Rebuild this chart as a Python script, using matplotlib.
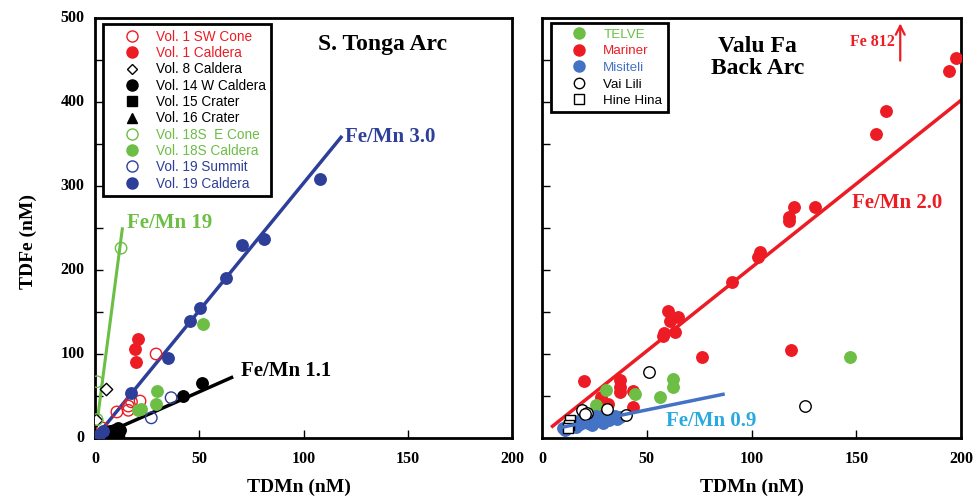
import matplotlib
matplotlib.use("Agg")
import matplotlib.pyplot as plt
from matplotlib.lines import Line2D

RED = "#ED1C24"
GREEN = "#6CBE45"
NAVY = "#2E3F99"
MBLUE = "#4472C4"
LBLUE = "#29A9E0"

# ---------------- Left panel data (S. Tonga Arc) ----------------
v1sw_x = [29.3, 10.5, 16, 17.5, 21.6, 16, 3.5]
v1sw_y = [100, 31, 38, 43, 44, 33, 12]
v1cal_x = [20.7, 19.2, 19.7]
v1cal_y = [118, 106, 91]
v8_x = [5.4, 0.5]
v8_y = [58, 22]
v14_x = [51.3, 42.2, 5, 7, 9, 10, 12, 8, 6, 11, 4]
v14_y = [66, 50, 5, 8, 10, 6, 9, 3, 2, 12, 1]
v15_x = [8, 9, 10, 7, 11]
v15_y = [2, 4, 1, 3, 6]
v16_x = [3, 5]
v16_y = [3, 2]
v18e_x = [12.5, 1, 1]
v18e_y = [226, 67, 22]
v18c_x = [29.7, 29.2, 22, 20.6, 51.8]
v18c_y = [56, 40, 34, 33, 136]
v19s_x = [36.5, 27]
v19s_y = [48, 24]
v19c_x = [108, 81, 70.5, 63, 50.4, 45.6, 35, 17.5, 2, 4]
v19c_y = [308, 237, 230, 190, 155, 139, 95, 54, 4, 8]

line3_x = [0, 118]
line3_y = [0, 358]
line19_x = [0, 13.1]
line19_y = [0, 249]
line11_x = [0, 65.5]
line11_y = [0, 72]

# ---------------- Right panel data (Valu Fa Back Arc) ----------------
mar_x = [197.6, 194.3, 164, 159.4, 120.3, 118, 118, 130.3, 104, 103, 90.7,
         60, 65, 61, 63.5, 58, 57.6, 119, 76.4, 20, 37, 37, 37, 28, 43.4,
         43.4, 31.6, 27.7]
mar_y = [452, 437, 389, 362, 275, 263, 258, 275, 221, 216, 186,
         151, 144, 139, 126, 125, 121, 105, 96, 68, 69, 55, 61, 49, 56,
         37, 40, 34]
telve_x = [62.7, 62.7, 56.3, 30.5, 44.4, 26, 147]
telve_y = [70, 61, 49, 57, 52, 39, 96]
misi_x = [10, 12, 15, 17, 19, 21, 23, 25, 27, 28, 30, 32, 33, 35, 36, 37,
          14, 18, 22, 26, 29, 11, 16, 24]
misi_y = [12, 14, 18, 20, 22, 20, 24, 22, 20, 24, 26, 22, 24, 26, 23, 25,
          16, 17, 18, 26, 18, 10, 13, 16]
vai_x = [51, 125.6, 31, 40, 19, 21.4, 20.5]
vai_y = [78, 38, 34, 27, 33, 30, 28]
hine_x = [13.4, 13, 12.6]
hine_y = [21, 15, 12]

line20_x = [5, 200]
line20_y = [14, 402]
line09_x = [10, 86.4]
line09_y = [13, 52]

xticks = [0, 50, 100, 150, 200]
yticks = [0, 100, 200, 300, 400, 500]

fig = plt.figure(figsize=(9.74, 4.97), dpi=100)
axL = fig.add_axes([95 / 974, 59 / 497, 417 / 974, 420 / 497])
axR = fig.add_axes([542 / 974, 59 / 497, 419 / 974, 420 / 497])

serif = "Liberation Serif"
sans = "Liberation Sans"
ms = 68

for ax in (axL, axR):
    ax.set_xlim(0, 200)
    ax.set_ylim(0, 500)
    for s in ax.spines.values():
        s.set_linewidth(2)
    ax.set_xticks([50, 100, 150])
    ax.set_yticks(list(range(50, 500, 50)))
    ax.tick_params(direction="in", length=6, width=1, labelbottom=False,
                   labelleft=False)

# Left panel
axL.plot(line19_x, line19_y, color=GREEN, lw=2.2, zorder=2)
axL.plot(line3_x, line3_y, color=NAVY, lw=2.5, zorder=2)
axL.plot(line11_x, line11_y, color="black", lw=2.5, zorder=2)

axL.scatter(v1sw_x, v1sw_y, s=ms, facecolors="none", edgecolors=RED, lw=1, zorder=3)
axL.scatter(v1cal_x, v1cal_y, s=ms, color=RED, zorder=3)
axL.scatter(v8_x, v8_y, s=40, marker="D", facecolors="white", edgecolors="black", lw=1, zorder=3)
axL.scatter(v14_x, v14_y, s=ms, color="black", zorder=3)
axL.scatter(v15_x, v15_y, s=ms, marker="s", color="black", zorder=3)
axL.scatter(v16_x, v16_y, s=ms, marker="^", color="black", zorder=3)
axL.scatter(v18e_x, v18e_y, s=ms, facecolors="none", edgecolors=GREEN, lw=1, zorder=3)
axL.scatter(v18c_x, v18c_y, s=ms, color=GREEN, zorder=3)
axL.scatter(v19s_x, v19s_y, s=ms, facecolors="none", edgecolors=NAVY, lw=1, zorder=3)
axL.scatter(v19c_x, v19c_y, s=ms, color=NAVY, zorder=3)

axL.text(120, 358, "Fe/Mn 3.0", color=NAVY, fontsize=15, fontweight="bold",
         family=serif, va="center")
axL.text(15.5, 256, "Fe/Mn 19", color=GREEN, fontsize=15, fontweight="bold",
         family=serif, va="center")
axL.text(70, 80, "Fe/Mn 1.1", color="black", fontsize=15, fontweight="bold",
         family=serif, va="center")
axL.text(107, 468, "S. Tonga Arc", color="black", fontsize=17, fontweight="bold",
         family=serif, va="center")

labelsL = ["Vol. 1 SW Cone", "Vol. 1 Caldera", "Vol. 8 Caldera", "Vol. 14 W Caldera",
           "Vol. 15 Crater", "Vol. 16 Crater", "Vol. 18S  E Cone", "Vol. 18S Caldera",
           "Vol. 19 Summit", "Vol. 19 Caldera"]
hL = [
    Line2D([], [], ls="", marker="o", mfc="none", mec=RED, ms=8),
    Line2D([], [], ls="", marker="o", mfc=RED, mec=RED, ms=8),
    Line2D([], [], ls="", marker="D", mfc="white", mec="black", ms=5.5),
    Line2D([], [], ls="", marker="o", mfc="black", mec="black", ms=8),
    Line2D([], [], ls="", marker="s", mfc="black", mec="black", ms=7.5),
    Line2D([], [], ls="", marker="^", mfc="black", mec="black", ms=7),
    Line2D([], [], ls="", marker="o", mfc="none", mec=GREEN, ms=8),
    Line2D([], [], ls="", marker="o", mfc=GREEN, mec=GREEN, ms=8),
    Line2D([], [], ls="", marker="o", mfc="none", mec=NAVY, ms=8),
    Line2D([], [], ls="", marker="o", mfc=NAVY, mec=NAVY, ms=8),
]
colL = [RED, RED, "black", "black", "black", "black", GREEN, GREEN, NAVY, NAVY]
legL = axL.legend(hL, labelsL, loc="upper left", bbox_to_anchor=(0.019, 0.985),
                  prop={"family": sans, "size": 9.8}, labelcolor=colL,
                  fancybox=False, framealpha=1, edgecolor="black",
                  borderpad=0.4, labelspacing=0.17, handletextpad=0.1,
                  borderaxespad=0, handlelength=3.4)
legL.get_frame().set_linewidth(2)

# Right panel
axR.plot(line20_x, line20_y, color=RED, lw=2.5, zorder=2)
axR.scatter(mar_x, mar_y, s=ms, color=RED, zorder=3)
axR.scatter(telve_x, telve_y, s=ms, color=GREEN, zorder=3)
axR.scatter(misi_x, misi_y, s=ms, color=MBLUE, zorder=3)
axR.scatter(vai_x, vai_y, s=ms, facecolors="white", edgecolors="black", lw=1, zorder=4)
axR.scatter(hine_x, hine_y, s=50, marker="s", facecolors="white", edgecolors="black", lw=1, zorder=4)
axR.plot(line09_x, line09_y, color=MBLUE, lw=2.5, zorder=5)

axR.text(148, 280, "Fe/Mn 2.0", color=RED, fontsize=15, fontweight="bold",
         family=serif, va="center")
axR.text(59, 20, "Fe/Mn 0.9", color=LBLUE, fontsize=15, fontweight="bold",
         family=serif, va="center")
axR.text(103, 453, "Valu Fa\nBack Arc", color="black", fontsize=17, fontweight="bold",
         family=serif, va="center", ha="center", linespacing=1.05)
axR.text(168.5, 471, "Fe 812", color=RED, fontsize=11.5, fontweight="bold",
         family=serif, va="center", ha="right")
axR.annotate("", xy=(171, 497), xytext=(171, 446),
             arrowprops=dict(arrowstyle="->", color=RED, lw=1.6, mutation_scale=16))

labelsR = ["TELVE", "Mariner", "Misiteli", "Vai Lili", "Hine Hina"]
hR = [
    Line2D([], [], ls="", marker="o", mfc=GREEN, mec=GREEN, ms=8),
    Line2D([], [], ls="", marker="o", mfc=RED, mec=RED, ms=8),
    Line2D([], [], ls="", marker="o", mfc=MBLUE, mec=MBLUE, ms=8),
    Line2D([], [], ls="", marker="o", mfc="white", mec="black", ms=7.5),
    Line2D([], [], ls="", marker="s", mfc="white", mec="black", ms=7),
]
colR = [GREEN, RED, MBLUE, "black", "black"]
legR = axR.legend(hR, labelsR, loc="upper left", bbox_to_anchor=(0.022, 0.988),
                  prop={"family": sans, "size": 9.6}, labelcolor=colR,
                  fancybox=False, framealpha=1, edgecolor="black",
                  borderpad=0.4, labelspacing=0.32, handletextpad=0.1,
                  borderaxespad=0, handlelength=3.4)
legR.get_frame().set_linewidth(2)

# Tick labels as text (bold serif)
for ax, showy in ((axL, True), (axR, False)):
    for xt in xticks:
        ax.text(xt, -25, str(xt), ha="center", va="center", fontsize=11.5,
                fontweight="bold", family=serif, clip_on=False)
    if showy:
        for yt in yticks:
            ax.text(-5, yt, str(yt), ha="right", va="center", fontsize=11.5,
                    fontweight="bold", family=serif, clip_on=False)

axL.text(-0.16, 0.467, "TDFe (nM)", rotation=90, transform=axL.transAxes,
         ha="center", va="center", fontsize=14, fontweight="bold", family=serif)
axL.text(0.49, -0.118, "TDMn (nM)", transform=axL.transAxes,
         ha="center", va="center", fontsize=14, fontweight="bold", family=serif)
axR.text(0.5, -0.118, "TDMn (nM)", transform=axR.transAxes,
         ha="center", va="center", fontsize=14, fontweight="bold", family=serif)

fig.savefig("out.png", dpi=100)
